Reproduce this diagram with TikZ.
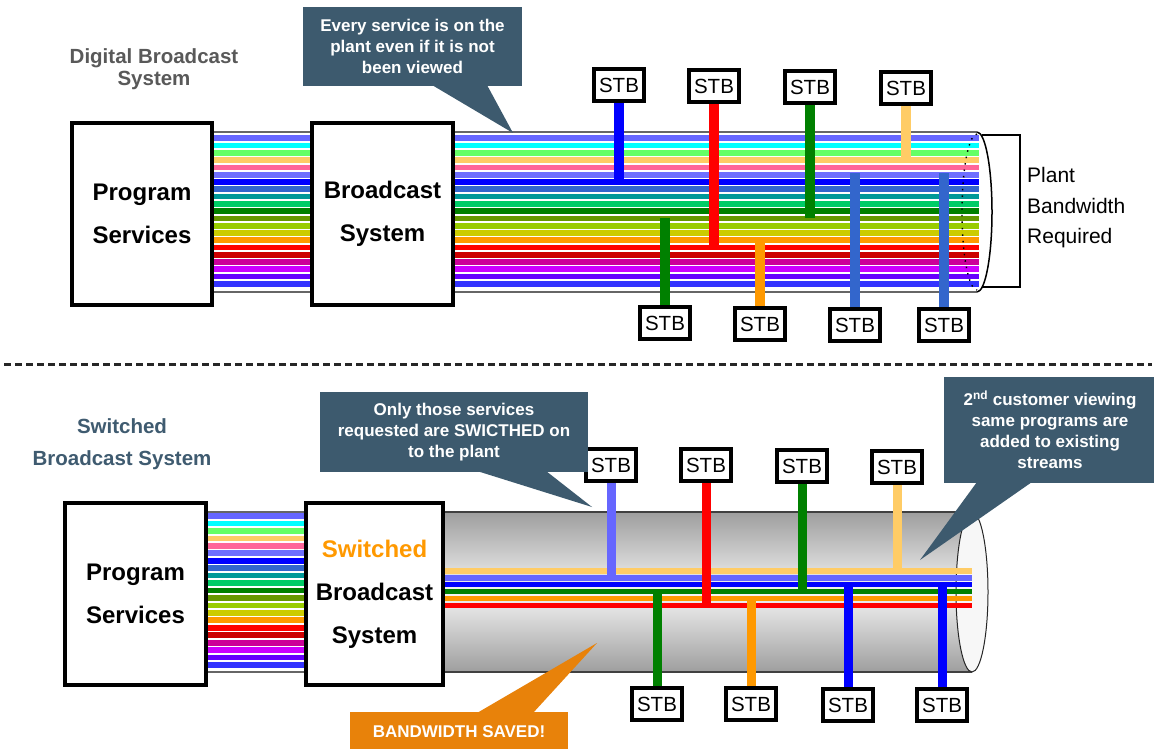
\documentclass[tikz,border=0pt]{standalone}
\usepackage{fontspec}
\setmainfont{Liberation Sans}
\definecolor{slate}{HTML}{3D5A6E}
\definecolor{calloutorange}{HTML}{E8820A}
\definecolor{titlegray}{HTML}{595959}
\definecolor{titleslate}{HTML}{3F5B70}
\definecolor{s1}{HTML}{6666FF}
\definecolor{s2}{HTML}{00FFFF}
\definecolor{s3}{HTML}{66FF66}
\definecolor{s4}{HTML}{FFCC66}
\definecolor{s5}{HTML}{FF6699}
\definecolor{s6}{HTML}{6F6FFF}
\definecolor{s7}{HTML}{0000FF}
\definecolor{s8}{HTML}{3366CC}
\definecolor{s9}{HTML}{009999}
\definecolor{s10}{HTML}{00CC66}
\definecolor{s11}{HTML}{008000}
\definecolor{s12}{HTML}{669900}
\definecolor{s13}{HTML}{99CC00}
\definecolor{s14}{HTML}{CCCC00}
\definecolor{s15}{HTML}{FF9900}
\definecolor{s16}{HTML}{FF0000}
\definecolor{s17}{HTML}{CC0000}
\definecolor{s18}{HTML}{CC0099}
\definecolor{s19}{HTML}{CC00FF}
\definecolor{s20}{HTML}{6600FF}
\definecolor{s21}{HTML}{3333FF}
\begin{document}
\begin{tikzpicture}[x=1pt,y=-1pt,
  stripe/.style={line width=5.7pt},
  lstripe/.style={line width=5.2pt},
  tubeedge/.style={draw=black!60, line width=1.2pt},
  bigbox/.style={draw=black, fill=white, line width=4.5pt, inner sep=0pt, align=center,
    font=\fontsize{24}{43}\selectfont\bfseries},
  stb/.style={draw=black, fill=white, line width=4pt, minimum width=50pt, minimum height=32pt,
    inner sep=0pt, font=\fontsize{20.5}{20.5}\selectfont},
  drop/.style={line width=10pt},
  ldrop/.style={line width=9pt},
  callout/.style={fill=slate, text=white, align=center, inner sep=0pt,
    font=\fontsize{17}{21}\selectfont\bfseries},
  title/.style={align=center, font=\fontsize{20.5}{22}\selectfont\bfseries}
]
\useasboundingbox (0,0) rectangle (1154,749);
\fill[white] (0,0) rectangle (1154,749);

% ================= TOP: Digital Broadcast System =================
\node[title, text=titlegray] (dtitle) at (154,69) {Digital Broadcast\\System};

\draw[tubeedge] (212,132) -- (977,132);
\draw[tubeedge] (212,292) -- (977,292);
\foreach \c [count=\i from 0] in {s1,s2,s3,s4,s5,s6,s7,s8,s9,s10,s11,s12,s13,s14,s15,s16,s17,s18,s19,s20,s21}
  \draw[stripe,\c] (212,{138.3+\i*7.28}) -- (979,{138.3+\i*7.28});
\draw[black, line width=1.4pt, dash pattern=on 1.5pt off 5pt] (977,134) arc[start angle=-90, end angle=-270, x radius=15, y radius=78];
\draw[black, line width=1.5pt] (977,132) arc[start angle=-90, end angle=90, x radius=15, y radius=80];

\node[bigbox, minimum width=140pt, minimum height=182pt] (ps1) at (142,214) {Program\\Services};
\node[bigbox, minimum width=141pt, minimum height=182pt] (bs1) at (382.5,214) {Broadcast\\System};

% STBs top
\node[stb] (t1) at (619,85) {STB};
\node[stb] (t2) at (714,86) {STB};
\node[stb] (t3) at (810,87) {STB};
\node[stb] (t4) at (906,88) {STB};
\node[stb] (b1) at (665,323) {STB};
\node[stb] (b2) at (760,324) {STB};
\node[stb] (b3) at (855,325) {STB};
\node[stb] (b4) at (944,325) {STB};
\coordinate (et1) at (619,181);
\coordinate (et2) at (714,248);
\coordinate (et3) at (810,218);
\coordinate (et4) at (906,161);
\coordinate (eb1) at (665,218);
\coordinate (eb2) at (760,241);
\coordinate (eb3) at (855,173);
\coordinate (eb4) at (944,173);
\draw[drop,s7] (t1.south) -- (et1);
\draw[drop,s16] (t2.south) -- (et2);
\draw[drop,s11] (t3.south) -- (et3);
\draw[drop,s4] (t4.south) -- (et4);
\draw[drop,s11] (b1.north) -- (eb1);
\draw[drop,s15] (b2.north) -- (eb2);
\draw[drop,s8] (b3.north) -- (eb3);
\draw[drop,s8] (b4.north) -- (eb4);

% bracket
\coordinate (br1) at (982,135);
\coordinate (br2) at (982,287);
\draw[black, line width=1.5pt] (br1) -- (1020,135) -- (1020,287) -- (br2);
\node[anchor=west, align=left, inner sep=0pt, font=\fontsize{21}{30.5}\selectfont] (pbr) at (1027,208) {Plant\\Bandwidth\\Required};

% callout top
\node[callout, minimum width=219pt, minimum height=79pt] (c1) at (412.5,46.5) {Every service is on the\\plant even if it is not\\been viewed};
\fill[slate] (432,85) -- (513,133) -- (487,85) -- cycle;

% separator
\draw[black!85, line width=3pt, dash pattern=on 7pt off 4pt] (4,364) -- (1152,364);

% ================= BOTTOM: Switched Broadcast System =================
\node[title, text=titleslate, font=\fontsize{20.5}{32}\selectfont\bfseries] (stitle) at (122,444) {Switched\\Broadcast System};

\draw[tubeedge] (206,512) -- (443,512);
\draw[tubeedge] (206,672) -- (443,672);
\foreach \c [count=\i from 0] in {s1,s2,s3,s4,s5,s6,s7,s8,s9,s10,s11,s12,s13,s14,s15,s16,s17,s18,s19,s20,s21}
  \draw[stripe,\c] (206,{516+\i*7.45}) -- (306,{516+\i*7.45});

\shade[top color=black!38, bottom color=black!38, middle color=black!4] (443,512) rectangle (972,672);
\draw[tubeedge, draw=black!75] (443,512) -- (972,512);
\draw[tubeedge, draw=black!75] (443,672) -- (972,672);
\draw[fill=black!3, draw=black!85, line width=1pt] (972,592) ellipse [x radius=16, y radius=80];

\foreach \c [count=\i from 0] in {s4,s1,s7,s11,s15,s16}
  \draw[lstripe,\c] (443,{571+\i*6.9}) -- (972,{571+\i*6.9});

\node[bigbox, minimum width=141pt, minimum height=182pt] (ps2) at (135.5,594) {Program\\Services};
\node[bigbox, minimum width=137pt, minimum height=182pt] (bs2) at (374.5,594) {\textcolor{s15}{Switched}\\Broadcast\\System};

\node[stb] (u1) at (611,465) {STB};
\node[stb] (u2) at (706,465) {STB};
\node[stb] (u3) at (802,466) {STB};
\node[stb] (u4) at (897,467) {STB};
\node[stb] (l1) at (657,704) {STB};
\node[stb] (l2) at (751,704) {STB};
\node[stb] (l3) at (848,705) {STB};
\node[stb] (l4) at (942,705) {STB};
\coordinate (eu1) at (611,578);
\coordinate (eu2) at (706,608);
\coordinate (eu3) at (802,594);
\coordinate (eu4) at (897,573);
\coordinate (el1) at (657,589);
\coordinate (el2) at (751,596);
\coordinate (el3) at (848,582);
\coordinate (el4) at (942,582);
\draw[ldrop,s1] (u1.south) -- (eu1);
\draw[ldrop,s16] (u2.south) -- (eu2);
\draw[ldrop,s11] (u3.south) -- (eu3);
\draw[ldrop,s4] (u4.south) -- (eu4);
\draw[ldrop,s11] (l1.north) -- (el1);
\draw[ldrop,s15] (l2.north) -- (el2);
\draw[ldrop,s7] (l3.north) -- (el3);
\draw[ldrop,s7] (l4.north) -- (el4);

% callouts bottom
\node[callout, minimum width=268pt, minimum height=80pt] (c2) at (454,432) {Only those services\\requested are SWICTHED on\\to the plant};
\fill[slate] (477,471) -- (592,507) -- (546,471) -- cycle;

\node[callout, minimum width=212pt, minimum height=106pt] (c3) at (1050,430) {2\textsuperscript{nd} customer viewing\\same programs are\\added to existing\\streams};
\fill[slate] (977,482) -- (920,560) -- (1032,482) -- cycle;

\node[callout, fill=calloutorange, minimum width=218pt, minimum height=40pt] (c4) at (459,732) {BANDWIDTH SAVED!};
\fill[calloutorange] (477,713) -- (597,643) -- (533,713) -- cycle;
\end{tikzpicture}
\end{document}
